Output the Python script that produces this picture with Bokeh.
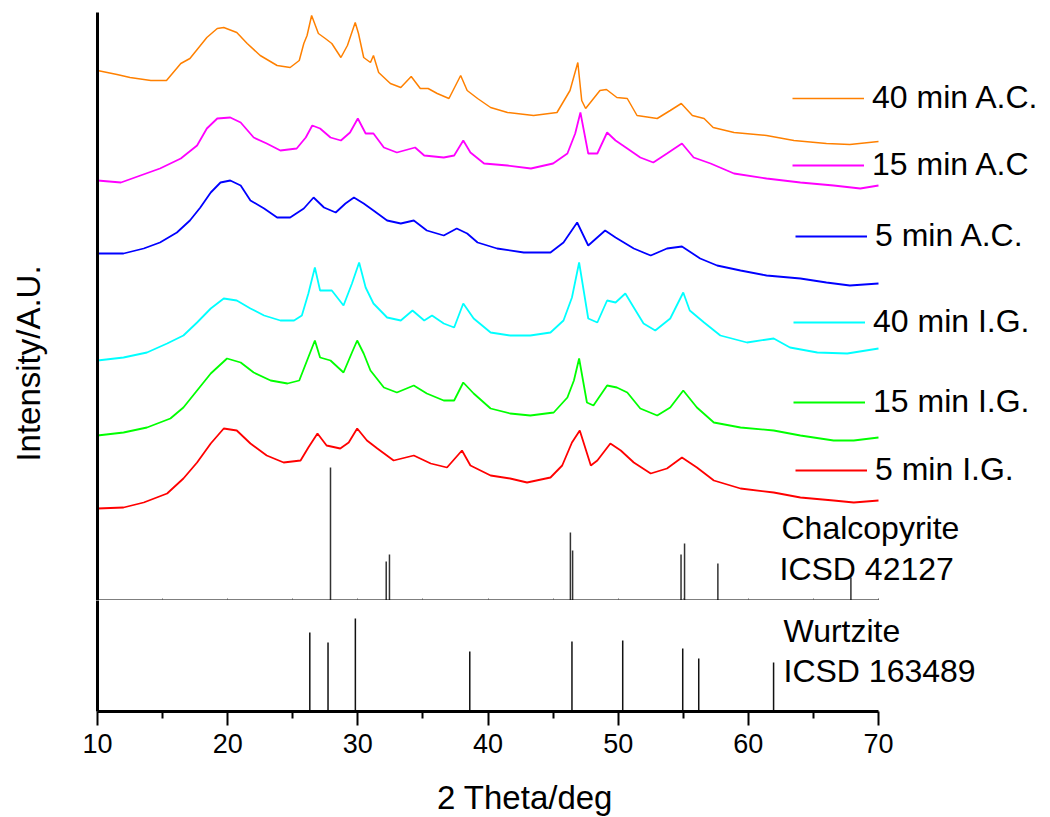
import math
from bokeh.plotting import figure
from bokeh.layouts import column, row
from bokeh.models import Legend, LegendItem, Label, Range1d, FixedTicker
from bokeh.embed import file_html
from bokeh.resources import INLINE

# ---------------- data (stacked intensities, a.u.) ----------------
ac40_x = [10.0, 11.5, 12.5, 14.1, 15.3, 16.4, 17.1, 18.4, 19.2, 19.7, 20.7, 21.5, 22.5, 23.8, 24.8, 25.5,
          25.85, 26.1, 26.45, 26.97, 27.5, 28.0, 28.7, 29.2, 29.8, 30.05, 30.45, 30.97, 31.2, 31.6, 32.5,
          33.3, 34.1, 34.8, 35.4, 36.1, 37.0, 37.9, 38.4, 39.2, 40.2, 41.5, 43.5, 45.3, 46.3, 46.9, 47.2,
          47.5, 48.6, 49.1, 49.9, 50.7, 51.45, 53.0, 54.0, 54.85, 55.7, 56.6, 57.3, 58.9, 61.4, 63.5, 66.0,
          67.8, 70.0]
ac40_y = [530, 526, 523, 520, 520, 537, 542, 563, 572, 573, 568, 557, 545, 535, 533, 540,
          557, 565, 585, 567, 562, 557, 543, 555, 578, 567, 543, 538, 545, 528, 517,
          513, 524, 512, 512, 507, 502, 525, 510, 502, 493, 488, 485, 488, 510, 538, 500,
          492, 510, 511, 503, 502, 485, 482, 490, 497, 485, 482, 473, 468, 465, 460, 457,
          456, 459]

ac15_x = [10.0, 11.8, 13.3, 14.8, 16.4, 17.65, 18.4, 19.2, 20.2, 21.0, 22.0, 23.0, 24.05, 25.3, 26.0,
          26.5, 27.1, 27.9, 28.7, 29.4, 30.0, 30.6, 31.2, 32.0, 33.0, 34.4, 35.1, 36.6, 37.4, 38.1,
          38.65, 39.7, 41.5, 43.3, 45.0, 46.1, 46.7, 47.1, 47.7, 48.4, 49.15, 49.8, 50.7, 51.7, 52.7,
          53.75, 54.9, 55.8, 57.1, 58.9, 61.4, 64.0, 66.55, 68.6, 70.0]
ac15_y = [420, 418, 425, 432, 442, 455, 472, 482, 483, 478, 463, 457, 450, 452, 463,
          475, 472, 463, 460, 468, 482, 467, 467, 453, 448, 453, 445, 443, 445, 460,
          448, 437, 435, 432, 437, 447, 467, 488, 447, 447, 468, 460, 452, 443, 438,
          447, 457, 443, 437, 427, 422, 418, 415, 412, 415]

ac5_x = [10.0, 12.0, 13.55, 14.8, 16.1, 17.1, 17.9, 18.7, 19.45, 20.2, 21.0, 21.75, 22.8, 23.8, 24.8,
         25.85, 26.6, 27.4, 28.3, 29.05, 29.7, 30.45, 31.2, 32.25, 33.3, 34.3, 35.3, 36.6, 37.6, 38.4,
         39.2, 40.7, 42.75, 44.8, 45.8, 46.85, 47.7, 49.0, 49.8, 51.2, 52.5, 53.75, 54.9, 56.3, 57.6,
         59.4, 61.4, 64.0, 66.0, 67.8, 70.0]
ac5_y = [347, 347, 352, 358, 368, 380, 393, 408, 418, 420, 415, 400, 392, 383, 383,
         392, 403, 393, 388, 397, 403, 397, 390, 380, 377, 380, 370, 365, 372, 367,
         358, 352, 348, 348, 358, 378, 355, 370, 363, 352, 345, 352, 354, 342, 335,
         330, 325, 322, 318, 315, 317]

ig40_x = [10.0, 12.0, 13.8, 15.35, 16.6, 17.65, 18.7, 19.7, 20.7, 21.75, 22.8, 24.05, 25.1, 25.7, 26.2,
          26.7, 27.1, 28.0, 28.9, 29.55, 30.1, 30.6, 31.2, 32.25, 33.3, 34.2, 35.1, 35.7, 36.6, 37.4,
          38.1, 38.9, 40.2, 41.7, 43.25, 44.8, 45.8, 46.45, 47.0, 47.7, 48.4, 49.15, 49.8, 50.55, 51.2,
          51.95, 52.85, 54.0, 55.0, 55.5, 56.6, 57.85, 59.9, 61.95, 63.2, 65.3, 67.6, 70.0]
ig40_y = [240, 243, 248, 257, 265, 278, 292, 302, 300, 292, 285, 280, 280, 285, 307,
          333, 310, 310, 295, 317, 338, 313, 297, 283, 280, 290, 280, 285, 277, 273,
          297, 282, 268, 265, 265, 268, 280, 303, 338, 282, 278, 300, 298, 307, 293,
          277, 270, 282, 308, 290, 278, 265, 258, 262, 253, 248, 247, 252]

ig15_x = [10.0, 12.0, 13.8, 15.6, 16.6, 17.65, 18.7, 19.95, 21.0, 22.0, 23.3, 24.6, 25.5, 26.1, 26.7,
          27.1, 27.9, 28.9, 29.55, 29.95, 30.45, 30.97, 32.0, 33.0, 34.3, 35.3, 36.6, 37.4, 38.1, 38.9,
          40.2, 41.7, 43.25, 45.05, 46.1, 46.6, 47.0, 47.6, 48.1, 49.15, 49.9, 50.7, 51.7, 53.0, 54.0,
          55.0, 56.05, 57.35, 59.4, 61.95, 64.0, 66.55, 68.1, 70.0]
ig15_y = [165, 168, 173, 182, 193, 210, 227, 242, 238, 228, 220, 217, 220, 240, 260,
          243, 240, 228, 248, 260, 247, 230, 213, 208, 215, 207, 200, 200, 218, 207,
          192, 187, 185, 188, 203, 220, 242, 198, 195, 215, 213, 208, 192, 185, 193,
          210, 193, 178, 173, 170, 165, 160, 160, 163]

ig5_x = [10.0, 12.0, 13.55, 15.35, 16.6, 17.65, 18.7, 19.7, 20.7, 21.75, 23.0, 24.3, 25.6, 26.2, 26.9,
         27.6, 28.65, 29.3, 29.95, 30.7, 31.5, 32.75, 34.3, 35.6, 36.85, 38.0, 38.65, 40.2, 41.7, 43.0,
         44.8, 45.7, 46.45, 47.05, 47.9, 48.4, 49.4, 50.2, 51.2, 52.5, 53.75, 54.9, 56.05, 57.35, 59.4,
         61.95, 64.0, 66.55, 68.1, 70.0]
ig5_y = [92, 93, 98, 107, 122, 138, 157, 172, 170, 157, 145, 138, 140, 153, 167,
         155, 152, 158, 172, 160, 152, 140, 145, 137, 133, 150, 135, 125, 122, 118,
         123, 135, 158, 170, 135, 140, 157, 150, 138, 127, 132, 143, 133, 120, 112,
         108, 103, 100, 98, 100]

# reference patterns
chalco_pos = [27.9, 32.18, 32.43, 46.33, 46.5, 54.83, 55.1, 57.66, 67.88]
chalco_int = [133, 39, 46, 68, 50, 46, 57, 37, 23]
wurtz_pos = [26.31, 27.71, 29.81, 38.6, 46.45, 50.35, 54.96, 56.19, 61.94]
wurtz_int = [79, 69, 93, 60, 70, 71, 63, 53, 49]

series_labels = ["40 min A.C.", "15 min A.C", "5 min A.C.", "40 min I.G.", "15 min I.G.", "5 min I.G."]
series_colors = ["#FF8000", "#FF00FF", "#0000FF", "#00FFFF", "#00FF00", "#FF0000"]
x_ticks = [10, 20, 30, 40, 50, 60, 70]
x_minor = [15, 25, 35, 45, 55, 65]
x_lo, x_hi = 10, 70

FONT = "Liberation Sans"

# pixel geometry
PX_PER_DEG = 781 / (x_hi - x_lo)
FRAME_W = 950
LEFT_W = 60
xr = Range1d(x_lo, x_lo + FRAME_W / PX_PER_DEG)


def style_left_axis(a):
    a.ticker = FixedTicker(ticks=[])
    a.axis_line_width = 3
    a.axis_line_color = "black"
    a.major_tick_line_color = None
    a.minor_tick_line_color = None
    a.major_label_standoff = 0


# ---------------- upper panel ----------------
p1 = figure(frame_width=FRAME_W, frame_height=588, x_range=xr, y_range=Range1d(0, 588),
            min_border_left=97 - LEFT_W, min_border_right=0, min_border_top=12, min_border_bottom=0,
            output_backend="svg", toolbar_location=None, tools="")
p1.outline_line_color = None
p1.grid.visible = False

ax = p1.xaxis[0]
ax.ticker = FixedTicker(ticks=[], minor_ticks=x_ticks + x_minor)
ax.bounds = (x_lo, x_hi)
ax.axis_line_width = 2
ax.axis_line_color = "black"
ax.minor_tick_in = 2
ax.minor_tick_out = 0
ax.major_tick_line_color = None
ax.minor_tick_line_color = "#666666"
ax.major_label_standoff = 0
style_left_axis(p1.yaxis[0])

xs = [ac40_x, ac15_x, ac5_x, ig40_x, ig15_x, ig5_x]
ys = [ac40_y, ac15_y, ac5_y, ig40_y, ig15_y, ig5_y]
widths = [1.5, 1.8, 1.8, 1.8, 1.8, 1.8]
renderers = []
for x, y, c, w in zip(xs, ys, series_colors, widths):
    renderers.append(p1.line(x, y, line_color=c, line_width=w))

p1.segment(x0=chalco_pos, y0=[0] * len(chalco_pos), x1=chalco_pos, y1=chalco_int,
           line_color="#333333", line_width=1.5)

# legends (one per entry, positioned like the reference)
leg_x = [695, 695, 698, 696, 696, 698]
leg_cy = [502, 435, 364, 278, 198, 130]
for lab, r, lx, cy in zip(series_labels, renderers, leg_x, leg_cy):
    leg = Legend(items=[LegendItem(label=lab, renderers=[r])], location=(lx, cy - 18),
                 glyph_width=72, glyph_height=36, label_height=36, label_standoff=8,
                 padding=0, spacing=0, margin=0, border_line_color=None,
                 background_fill_alpha=0, label_text_font=FONT, label_text_font_size="32px",
                 label_text_color="black", label_text_baseline="middle")
    p1.add_layout(leg)

for txt, lx, ly in [("Chalcopyrite", 684, 73), ("ICSD 42127", 682, 32)]:
    p1.add_layout(Label(x=lx, y=ly, x_units="screen", y_units="screen", text=txt,
                        text_font=FONT, text_font_size="32px", text_align="left",
                        text_baseline="middle", text_color="black"))

# ---------------- lower panel ----------------
P2_BOTTOM = 56
p2 = figure(frame_width=FRAME_W, frame_height=111, x_range=xr, y_range=Range1d(0, 111),
            min_border_left=97 - LEFT_W, min_border_right=0, min_border_top=0,
            min_border_bottom=P2_BOTTOM,
            output_backend="svg", toolbar_location=None, tools="")
p2.outline_line_color = None
p2.grid.visible = False

bx = p2.xaxis[0]
bx.ticker = FixedTicker(ticks=x_ticks, minor_ticks=x_minor)
bx.bounds = (x_lo, x_hi)
bx.axis_line_width = 3
bx.axis_line_color = "black"
bx.major_tick_in = 0
bx.major_tick_out = 14
bx.minor_tick_in = 0
bx.minor_tick_out = 7
bx.major_tick_line_width = 2
bx.minor_tick_line_width = 2
bx.major_tick_line_color = "black"
bx.minor_tick_line_color = "black"
bx.major_label_text_font = FONT
bx.major_label_text_font_size = "27px"
bx.major_label_text_color = "black"
bx.major_label_standoff = 8
style_left_axis(p2.yaxis[0])

p2.segment(x0=wurtz_pos, y0=[0] * len(wurtz_pos), x1=wurtz_pos, y1=wurtz_int,
           line_color="#111111", line_width=1.5)

for txt, lx, ly in [("Wurtzite", 686, 81), ("ICSD 163489", 686, 41)]:
    p2.add_layout(Label(x=lx, y=ly, x_units="screen", y_units="screen", text=txt,
                        text_font=FONT, text_font_size="32px", text_align="left",
                        text_baseline="middle", text_color="black"))

# ---------------- x-axis title strip (centred under the 10-70 axis) ----------------
XL_H = 50
px_ = figure(frame_width=FRAME_W + 97 - LEFT_W, frame_height=XL_H,
             x_range=Range1d(0, 1), y_range=Range1d(0, 1),
             min_border=0, x_axis_location=None, y_axis_location=None,
             output_backend="svg", toolbar_location=None, tools="")
px_.outline_line_color = None
px_.grid.visible = False
px_.add_layout(Label(x=(97 - LEFT_W) + 781 / 2, y=XL_H - 30, x_units="screen", y_units="screen",
                     text="2 Theta/deg", text_font=FONT, text_font_size="33px", text_align="center",
                     text_baseline="middle", text_color="black"))

# ---------------- y-axis title strip ----------------
pl = figure(frame_width=LEFT_W, frame_height=711, x_range=Range1d(0, 1), y_range=Range1d(0, 1),
            min_border=0, x_axis_location=None, y_axis_location=None,
            output_backend="svg", toolbar_location=None, tools="")
pl.outline_line_color = None
pl.grid.visible = False
pl.add_layout(Label(x=28, y=711 - 363, x_units="screen", y_units="screen", text="Intensity/A.U.",
                    angle=math.pi / 2, text_font=FONT, text_font_size="33px", text_align="center",
                    text_baseline="middle", text_color="black"))

layout = row(pl, column(p1, p2, px_, spacing=0), spacing=0)
open("out.html", "w").write(file_html(layout, INLINE))
